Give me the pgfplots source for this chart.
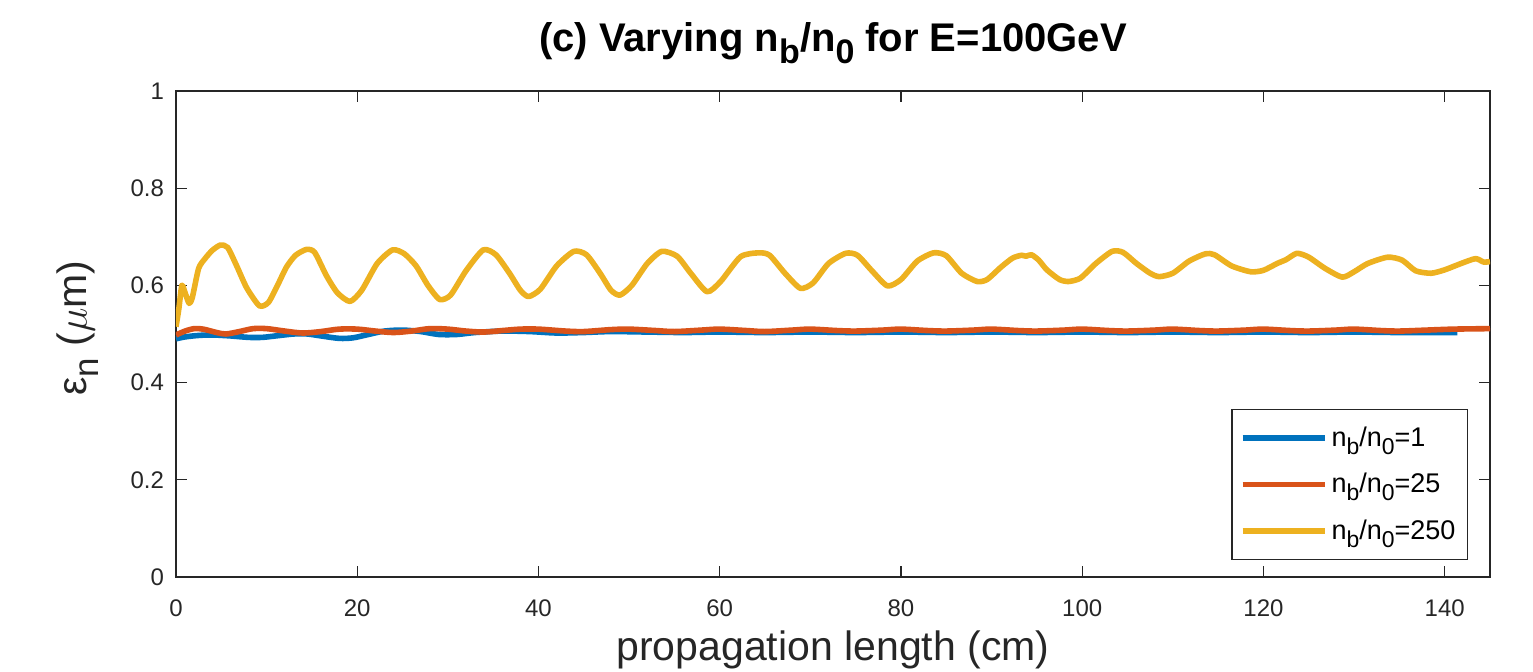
\documentclass[border=0pt]{standalone}
\usepackage{fontspec}
\setmainfont{Liberation Sans}
\usepackage{graphicx}
\usepackage{pgfplots}
\pgfplotsset{compat=1.18}
\definecolor{mblue}{rgb}{0,0.447,0.741}
\definecolor{mred}{rgb}{0.85,0.325,0.098}
\definecolor{myel}{rgb}{0.929,0.694,0.125}
\definecolor{axgray}{rgb}{0.15,0.15,0.15}
\newcommand{\sub}[1]{\raisebox{-0.55ex}{\scalebox{0.85}{#1}}}
\begin{document}
\begin{tikzpicture}
\begin{axis}[
  name=ax,
  scale only axis,
  width=657pt, height=243pt,
  xmin=0, xmax=145, ymin=0, ymax=1,
  xtick={0,20,...,140},
  ytick={0,0.2,0.4,0.6,0.8,1},
  /pgf/number format/assume math mode=true,
  /pgf/number format/fixed,
  axis line style={axgray, line width=0.65pt},
  tick style={axgray, line width=0.65pt},
  major tick length=5.5pt,
  tick align=inside,
  ticklabel style={font=\fontsize{12}{14}\selectfont, text=axgray},
  xticklabel style={yshift=-8pt},
  yticklabel style={xshift=-2.5pt},
  title={\textbf{(c) Varying n\sub{b}/n\sub{0} for E=100GeV}},
  title style={at={(0.5,1)}, anchor=base, yshift=13.5pt, font=\fontsize{20}{23}\selectfont},
  xlabel={propagation length (cm)},
  xlabel style={at={(0.5,0)}, anchor=base, yshift=-42pt, font=\fontsize{20.5}{23}\selectfont, text=axgray},
  ylabel={ε\sub{n} ($\mu$m)},
  ylabel style={at={(-0.068,0.512)}, anchor=base, rotate=0, font=\fontsize{20.5}{23}\selectfont, text=axgray},
  legend style={at={(0.9833,0.035)}, anchor=south east, draw=axgray, line width=0.65pt,
    font=\fontsize{13.5}{16}\selectfont, row sep=8pt, inner xsep=4pt, inner ysep=6.5pt},
  legend cell align=left,
  legend image code/.code={\draw[#1, line width=2.8pt] (0pt,0pt) -- (41pt,0pt);},
  every axis plot/.append style={line width=2.8pt, line join=round},
]
\addplot[mblue, smooth, tension=0.5] coordinates {
(0,0.490) (1,0.494) (2.5,0.497) (4,0.498) (6,0.496) (8,0.493) (9.5,0.493) (11,0.496)
(13,0.500) (14.5,0.500) (16,0.496) (18,0.491) (19.5,0.492) (21,0.498) (23,0.506) (25,0.508)
(27,0.505) (29,0.499) (31,0.499) (33,0.503) (36,0.506) (39,0.505) (42,0.502) (45,0.503)
(48,0.505) (52,0.504) (56,0.503) (60,0.504) (65,0.503) (70,0.504) (75,0.503) (80,0.504)
(85,0.503) (90,0.504) (95,0.503) (100,0.504) (105,0.503) (110,0.504) (115,0.503) (120,0.504)
(125,0.503) (130,0.504) (135,0.503) (141.4,0.503)
};
\addlegendentry{n\sub{b}/n\sub{0}=1}
\addplot[mred, smooth, tension=0.5] coordinates {
(0,0.498) (1,0.506) (2,0.511) (3,0.510) (4.5,0.503) (5.5,0.500) (7,0.505) (8.5,0.511)
(10,0.511) (12,0.506) (14,0.502) (16,0.505) (18,0.510) (20,0.510) (22,0.506) (24,0.503)
(26,0.506) (28,0.511) (30,0.510) (32,0.506) (34,0.504) (36,0.507) (38,0.510) (40,0.510)
(43,0.506) (45,0.505) (48,0.509) (50,0.510) (53,0.507) (55,0.505) (58,0.508) (60,0.510)
(63,0.507) (65,0.505) (68,0.508) (70,0.510) (73,0.507) (75,0.506) (78,0.508) (80,0.510)
(83,0.507) (85,0.506) (88,0.508) (90,0.510) (93,0.507) (95,0.506) (98,0.508) (100,0.510)
(103,0.507) (105,0.506) (108,0.508) (110,0.510) (113,0.507) (115,0.506) (118,0.508) (120,0.510)
(123,0.507) (125,0.506) (128,0.508) (130,0.510) (133,0.507) (135,0.506) (138,0.508) (141,0.510)
(145,0.511)
};
\addlegendentry{n\sub{b}/n\sub{0}=25}
\addplot[myel, smooth, tension=0.4] coordinates {
(0,0.515) (0.3,0.55) (0.65,0.600) (1.0,0.585) (1.45,0.563) (1.8,0.575) (2.5,0.635) (3.2,0.655)
(4.0,0.672) (4.9,0.683) (5.7,0.678) (6.7,0.640) (7.8,0.595) (9.2,0.558) (10.2,0.565) (11.2,0.600)
(12.2,0.638) (13.2,0.662) (14.4,0.674) (15.3,0.668) (16.6,0.620) (17.8,0.585) (19.2,0.567) (20.5,0.590)
(22.2,0.645) (23.9,0.673) (25.2,0.665) (26.5,0.640) (27.8,0.600) (29.1,0.571) (30.3,0.580) (32.0,0.630)
(33.9,0.673) (35.3,0.663) (36.8,0.625) (38.0,0.590) (38.9,0.577) (40.2,0.592) (42.0,0.640) (43.9,0.670)
(45.3,0.663) (46.8,0.625) (48.0,0.590) (49.0,0.580) (50.3,0.600) (52.0,0.645) (53.6,0.670) (55.3,0.660)
(56.8,0.625) (58.6,0.587) (60.1,0.608) (62.3,0.659) (64.3,0.667) (65.5,0.662) (67.2,0.625) (68.9,0.594)
(70.3,0.605) (72.0,0.645) (73.9,0.666) (75.2,0.662) (76.8,0.630) (78.5,0.599) (80.0,0.612) (81.8,0.650)
(83.6,0.667) (85.0,0.661) (86.7,0.625) (88.4,0.608) (89.5,0.612) (91.0,0.637) (92.3,0.656) (93.3,0.662)
(93.8,0.660) (94.4,0.663) (95.2,0.652) (96.1,0.632) (97.5,0.612) (98.5,0.608) (99.8,0.615) (101.5,0.645)
(103.3,0.670) (104.5,0.668) (106.0,0.645) (107.5,0.625) (108.5,0.618) (110.0,0.625) (111.8,0.650) (113.6,0.665)
(114.6,0.663) (116.5,0.640) (118.6,0.628) (120.0,0.631) (121.5,0.645) (122.5,0.653) (123.7,0.666) (125.0,0.658)
(126.8,0.635) (128.7,0.617) (130.0,0.628) (131.5,0.645) (133.7,0.658) (135.3,0.652) (136.8,0.630) (138.5,0.625)
(140.0,0.632) (141.8,0.645) (143.4,0.655) (144.3,0.648) (145,0.649)
};
\addlegendentry{n\sub{b}/n\sub{0}=250}
\end{axis}
\pgfresetboundingbox
\path (ax.south west) ++(-88pt,-47.5pt) rectangle ++(766.5pt,336pt);
\end{tikzpicture}
\end{document}
